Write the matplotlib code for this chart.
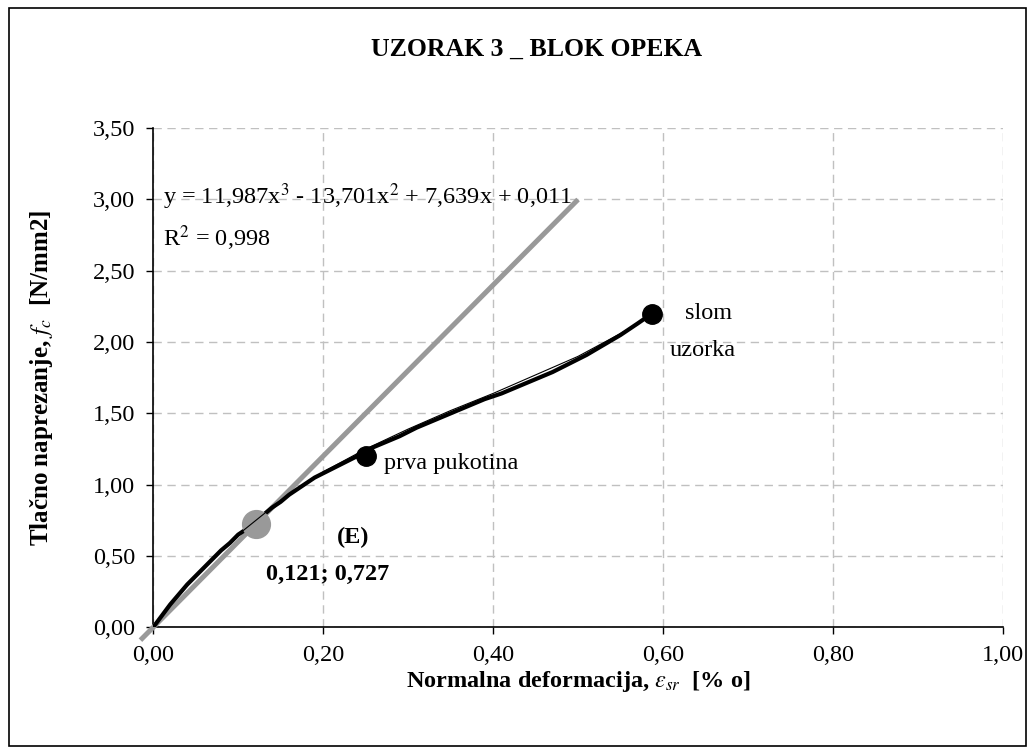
import numpy as np
import matplotlib.pyplot as plt
from matplotlib.patches import Rectangle
from matplotlib.ticker import FuncFormatter

plt.rcParams['font.family'] = ['Liberation Serif', 'DejaVu Serif']
plt.rcParams['mathtext.fontset'] = 'stix'

strain = [0.0, 0.01, 0.02, 0.03, 0.04, 0.05, 0.06, 0.07, 0.08, 0.09, 0.10,
          0.11, 0.12, 0.13, 0.14, 0.15, 0.16, 0.17, 0.18, 0.19, 0.20, 0.21,
          0.22, 0.23, 0.24, 0.25, 0.27, 0.29, 0.31, 0.33, 0.35, 0.37, 0.39,
          0.41, 0.43, 0.45, 0.47, 0.49, 0.51, 0.53, 0.55, 0.57, 0.587]
stress = [0.0, 0.08, 0.16, 0.23, 0.30, 0.36, 0.42, 0.48, 0.54, 0.59, 0.65,
          0.69, 0.74, 0.79, 0.84, 0.88, 0.93, 0.97, 1.01, 1.05, 1.08, 1.11,
          1.14, 1.17, 1.20, 1.24, 1.29, 1.34, 1.40, 1.45, 1.50, 1.55, 1.60,
          1.64, 1.69, 1.74, 1.79, 1.85, 1.91, 1.98, 2.05, 2.13, 2.20]

# thin trend line
trend_x = [0.0, 0.05, 0.10, 0.15, 0.20, 0.25, 0.30, 0.35, 0.40, 0.45, 0.50, 0.55, 0.587]
trend_y = [0.01, 0.36, 0.65, 0.89, 1.09, 1.25, 1.39, 1.52, 1.64, 1.77, 1.90, 2.06, 2.19]

# modulus line (grey)
e_x = [-0.015, 0.50]
e_y = [-0.09, 3.00]

e_point = (0.121, 0.727)
crack_point = (0.25, 1.20)
failure_point = (0.587, 2.20)

fig = plt.figure(figsize=(10.35, 7.54), dpi=100)
ax = fig.add_axes([0.148, 0.168, 0.821, 0.662])

fig.patches.append(Rectangle((9 / 1035, 8 / 754), 1017 / 1035, 738 / 754,
                             transform=fig.transFigure, fill=False,
                             edgecolor='black', linewidth=1.2))

ax.plot(e_x, e_y, color='#999999', linewidth=3.6, solid_capstyle='butt',
        clip_on=False, zorder=3)
ax.plot(strain, stress, color='black', linewidth=3.0, zorder=4)
ax.plot(trend_x, trend_y, color='black', linewidth=0.8, zorder=5)
ax.plot(*e_point, 'o', color='#999999', markersize=20, zorder=4.5)
ax.plot(*crack_point, 'o', color='black', markersize=14, zorder=6)
ax.plot(*failure_point, 'o', color='black', markersize=14, zorder=6)

ax.set_xlim(0, 1.0)
ax.set_ylim(0, 3.5)
ax.set_xticks(np.arange(0, 1.01, 0.2))
ax.set_yticks(np.arange(0, 3.51, 0.5))
fmt = FuncFormatter(lambda v, p: f'{v:.2f}'.replace('.', ','))
ax.xaxis.set_major_formatter(fmt)
ax.yaxis.set_major_formatter(fmt)
ax.tick_params(labelsize=17.5, length=5, width=1, direction='out', pad=8)
ax.grid(True, color='#c0c0c0', linestyle=(0, (6, 4)), linewidth=1)
ax.set_axisbelow(True)
for s in ['top', 'right']:
    ax.spines[s].set_visible(False)
for s in ['left', 'bottom']:
    ax.spines[s].set_linewidth(1.2)

ax.set_xlabel(r'Normalna deformacija, $\boldsymbol{\varepsilon_{sr}}$  [% o]',
              fontsize=17.5, fontweight='bold', labelpad=2)
ax.set_ylabel(r'Tlačno naprezanje, $\boldsymbol{f_c}$  [N/mm2]',
              fontsize=18, fontweight='bold', labelpad=27)
fig.text(0.518, 0.934, 'UZORAK 3 _ BLOK OPEKA', ha='center', va='center',
         fontsize=18.5, fontweight='bold')

ax.text(0.012, 3.02, r'y = 11,987x$^3$ - 13,701x$^2$ + 7,639x + 0,011',
        fontsize=17.5, va='center')
ax.text(0.012, 2.73, r'R$^2$ = 0,998', fontsize=17.5, va='center')
ax.text(0.235, 0.63, '(E)', fontsize=17.5, fontweight='bold', ha='center', va='center')
ax.text(0.205, 0.37, '0,121; 0,727', fontsize=17.5, fontweight='bold',
        ha='center', va='center')
ax.text(0.272, 1.15, 'prva pukotina', fontsize=17.5, va='center')
ax.text(0.626, 2.20, 'slom', fontsize=17.5, va='center')
ax.text(0.608, 1.94, 'uzorka', fontsize=17.5, va='center')

fig.savefig('out.png', dpi=100)
